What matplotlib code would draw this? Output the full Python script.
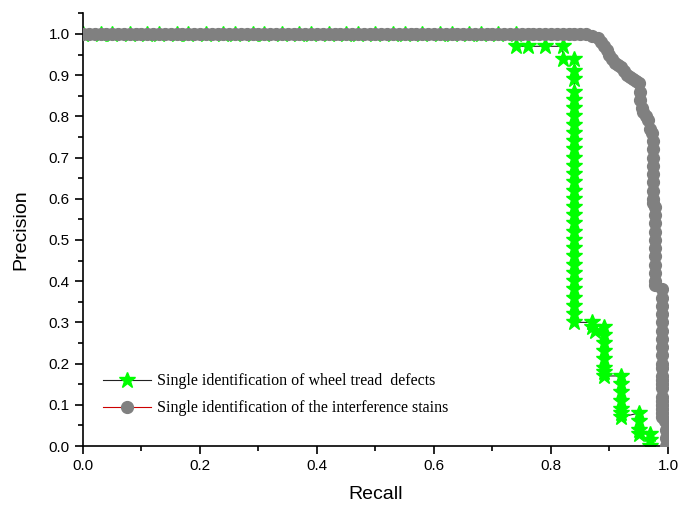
import matplotlib
matplotlib.use("Agg")
import matplotlib.pyplot as plt
from matplotlib.ticker import MultipleLocator

# wheel tread defects (green stars)
defect_recall = [0.00, 0.03, 0.05, 0.08, 0.11, 0.13, 0.16, 0.18, 0.21, 0.24,
                 0.26, 0.29, 0.31, 0.34, 0.37, 0.39, 0.42, 0.45, 0.47, 0.50,
                 0.53, 0.55, 0.58, 0.61, 0.63, 0.66, 0.68, 0.71, 0.74,
                 0.74, 0.76, 0.79, 0.82, 0.82, 0.84,
                 0.84, 0.84, 0.84, 0.84, 0.84, 0.84, 0.84, 0.84, 0.84, 0.84,
                 0.84, 0.84, 0.84, 0.84, 0.84, 0.84, 0.84, 0.84, 0.84, 0.84,
                 0.84, 0.84, 0.84, 0.84, 0.84, 0.84, 0.84, 0.84, 0.84, 0.84,
                 0.84,
                 0.87, 0.87, 0.875,
                 0.89, 0.89, 0.89, 0.89, 0.89, 0.89, 0.89, 0.89,
                 0.92, 0.92, 0.92, 0.92, 0.92, 0.92, 0.92,
                 0.95, 0.95, 0.95, 0.95,
                 0.97, 0.97, 0.97]
defect_precision = [1.0] * 29 + [
    0.97, 0.97, 0.97, 0.97, 0.94, 0.94,
    0.91, 0.89, 0.86, 0.84, 0.82, 0.80, 0.78, 0.76, 0.74, 0.72,
    0.70, 0.68, 0.66, 0.64, 0.62, 0.60, 0.58, 0.56, 0.54, 0.52,
    0.50, 0.48, 0.46, 0.44, 0.42, 0.40, 0.38, 0.36, 0.34, 0.32,
    0.30,
    0.30, 0.29, 0.28,
    0.29, 0.27, 0.25, 0.23, 0.21, 0.19, 0.18, 0.17,
    0.17, 0.15, 0.13, 0.11, 0.09, 0.08, 0.07,
    0.08, 0.06, 0.04, 0.03,
    0.03, 0.015, 0.0]

# interference stains (grey circles)
stain_recall = [0.00, 0.01, 0.02, 0.03, 0.04, 0.05, 0.06, 0.07, 0.08, 0.09,
                0.10, 0.11, 0.12, 0.13, 0.14, 0.15, 0.16, 0.17, 0.18, 0.19,
                0.20, 0.21, 0.22, 0.23, 0.24, 0.25, 0.26, 0.27, 0.28, 0.29,
                0.30, 0.31, 0.32, 0.33, 0.34, 0.35, 0.36, 0.37, 0.38, 0.39,
                0.40, 0.41, 0.42, 0.43, 0.44, 0.45, 0.46, 0.47, 0.48, 0.49,
                0.50, 0.51, 0.52, 0.53, 0.54, 0.55, 0.56, 0.57, 0.58, 0.59,
                0.60, 0.61, 0.62, 0.63, 0.64, 0.65, 0.66, 0.67, 0.68, 0.69,
                0.70, 0.71, 0.72, 0.73, 0.74, 0.75, 0.76, 0.77, 0.78, 0.79,
                0.80, 0.81, 0.82, 0.83, 0.84, 0.85, 0.86,
                0.87, 0.88, 0.885, 0.89, 0.895, 0.90, 0.905, 0.91, 0.915,
                0.92, 0.925, 0.93, 0.935, 0.94, 0.945, 0.95,
                0.952, 0.952, 0.955, 0.958, 0.962, 0.966, 0.97, 0.972,
                0.974, 0.974, 0.974, 0.974, 0.974, 0.974, 0.974, 0.974, 0.974,
                0.978, 0.978, 0.978, 0.978, 0.978, 0.978, 0.978, 0.978, 0.978,
                0.978, 0.978,
                0.99, 0.99, 0.99, 0.99, 0.99, 0.99, 0.99, 0.99, 0.99, 0.99,
                0.99, 0.99, 0.99, 0.99, 0.99, 0.99, 0.99, 0.99, 0.99, 0.99,
                0.99,
                0.995, 0.997, 0.997, 0.997]
stain_precision = [1.0] * 87 + [
    0.995, 0.99, 0.98, 0.97, 0.96, 0.95, 0.94, 0.93, 0.925,
    0.92, 0.91, 0.90, 0.895, 0.89, 0.885, 0.88,
    0.86, 0.84, 0.82, 0.81, 0.80, 0.79, 0.77, 0.76,
    0.74, 0.72, 0.70, 0.68, 0.66, 0.64, 0.62, 0.60, 0.59,
    0.58, 0.56, 0.54, 0.52, 0.50, 0.48, 0.46, 0.44, 0.42,
    0.40, 0.39,
    0.38, 0.36, 0.34, 0.32, 0.30, 0.28, 0.26, 0.24, 0.22, 0.20,
    0.19, 0.17, 0.16, 0.15, 0.14, 0.12, 0.11, 0.10, 0.09, 0.08,
    0.07,
    0.06, 0.04, 0.02, 0.0]

fig = plt.figure(figsize=(6.84, 5.13), dpi=100)
ax = fig.add_axes([0.1213, 0.1306, 0.8553, 0.8434])

ax.plot(defect_recall, defect_precision, color="#222222", lw=0.8,
        marker="*", ms=12, mfc="#00ff00", mec="#00ff00",
        label="Single identification of wheel tread  defects", zorder=2)
ax.plot(stain_recall, stain_precision, color="#cc0000", lw=0.8,
        marker="o", ms=8.5, mfc="#808080", mec="#808080",
        label="Single identification of the interference stains", zorder=3)

ax.set_xlim(0, 1.0)
ax.set_ylim(0, 1.05)
ax.xaxis.set_minor_locator(MultipleLocator(0.1))
ax.yaxis.set_minor_locator(MultipleLocator(0.05))
ax.set_yticks([0.0, 0.1, 0.2, 0.3, 0.4, 0.5, 0.6, 0.7, 0.8, 0.9, 1.0])
ax.set_yticklabels(["0.0", "0.1", "0.2", "0.3", "0.4", "0.5", "0.6",
                    "0.7", "0.8", "0.9", "1.0"])
ax.set_xticks([0.0, 0.2, 0.4, 0.6, 0.8, 1.0])
ax.set_xticklabels(["0.0", "0.2", "0.4", "0.6", "0.8", "1.0"])

ax.spines["top"].set_visible(False)
ax.spines["right"].set_visible(False)
for s in ["left", "bottom"]:
    ax.spines[s].set_linewidth(1.2)
ax.tick_params(which="major", direction="out", length=6, width=1.2,
               labelsize=11)
ax.tick_params(which="minor", direction="out", length=3.5, width=1.2)
for lab in ax.get_xticklabels() + ax.get_yticklabels():
    lab.set_family("Liberation Sans")

ax.set_xlabel("Recall", family="Liberation Sans", fontsize=14, labelpad=9)
ax.set_ylabel("Precision", family="Liberation Sans", fontsize=14, labelpad=14)

ax.legend(loc="lower left", bbox_to_anchor=(0.01, 0.035), frameon=False,
          numpoints=1, handlelength=3.0, handletextpad=0.35,
          labelspacing=0.7,
          prop={"family": "Liberation Serif", "size": 11.5})

fig.savefig("out.png", dpi=100)
